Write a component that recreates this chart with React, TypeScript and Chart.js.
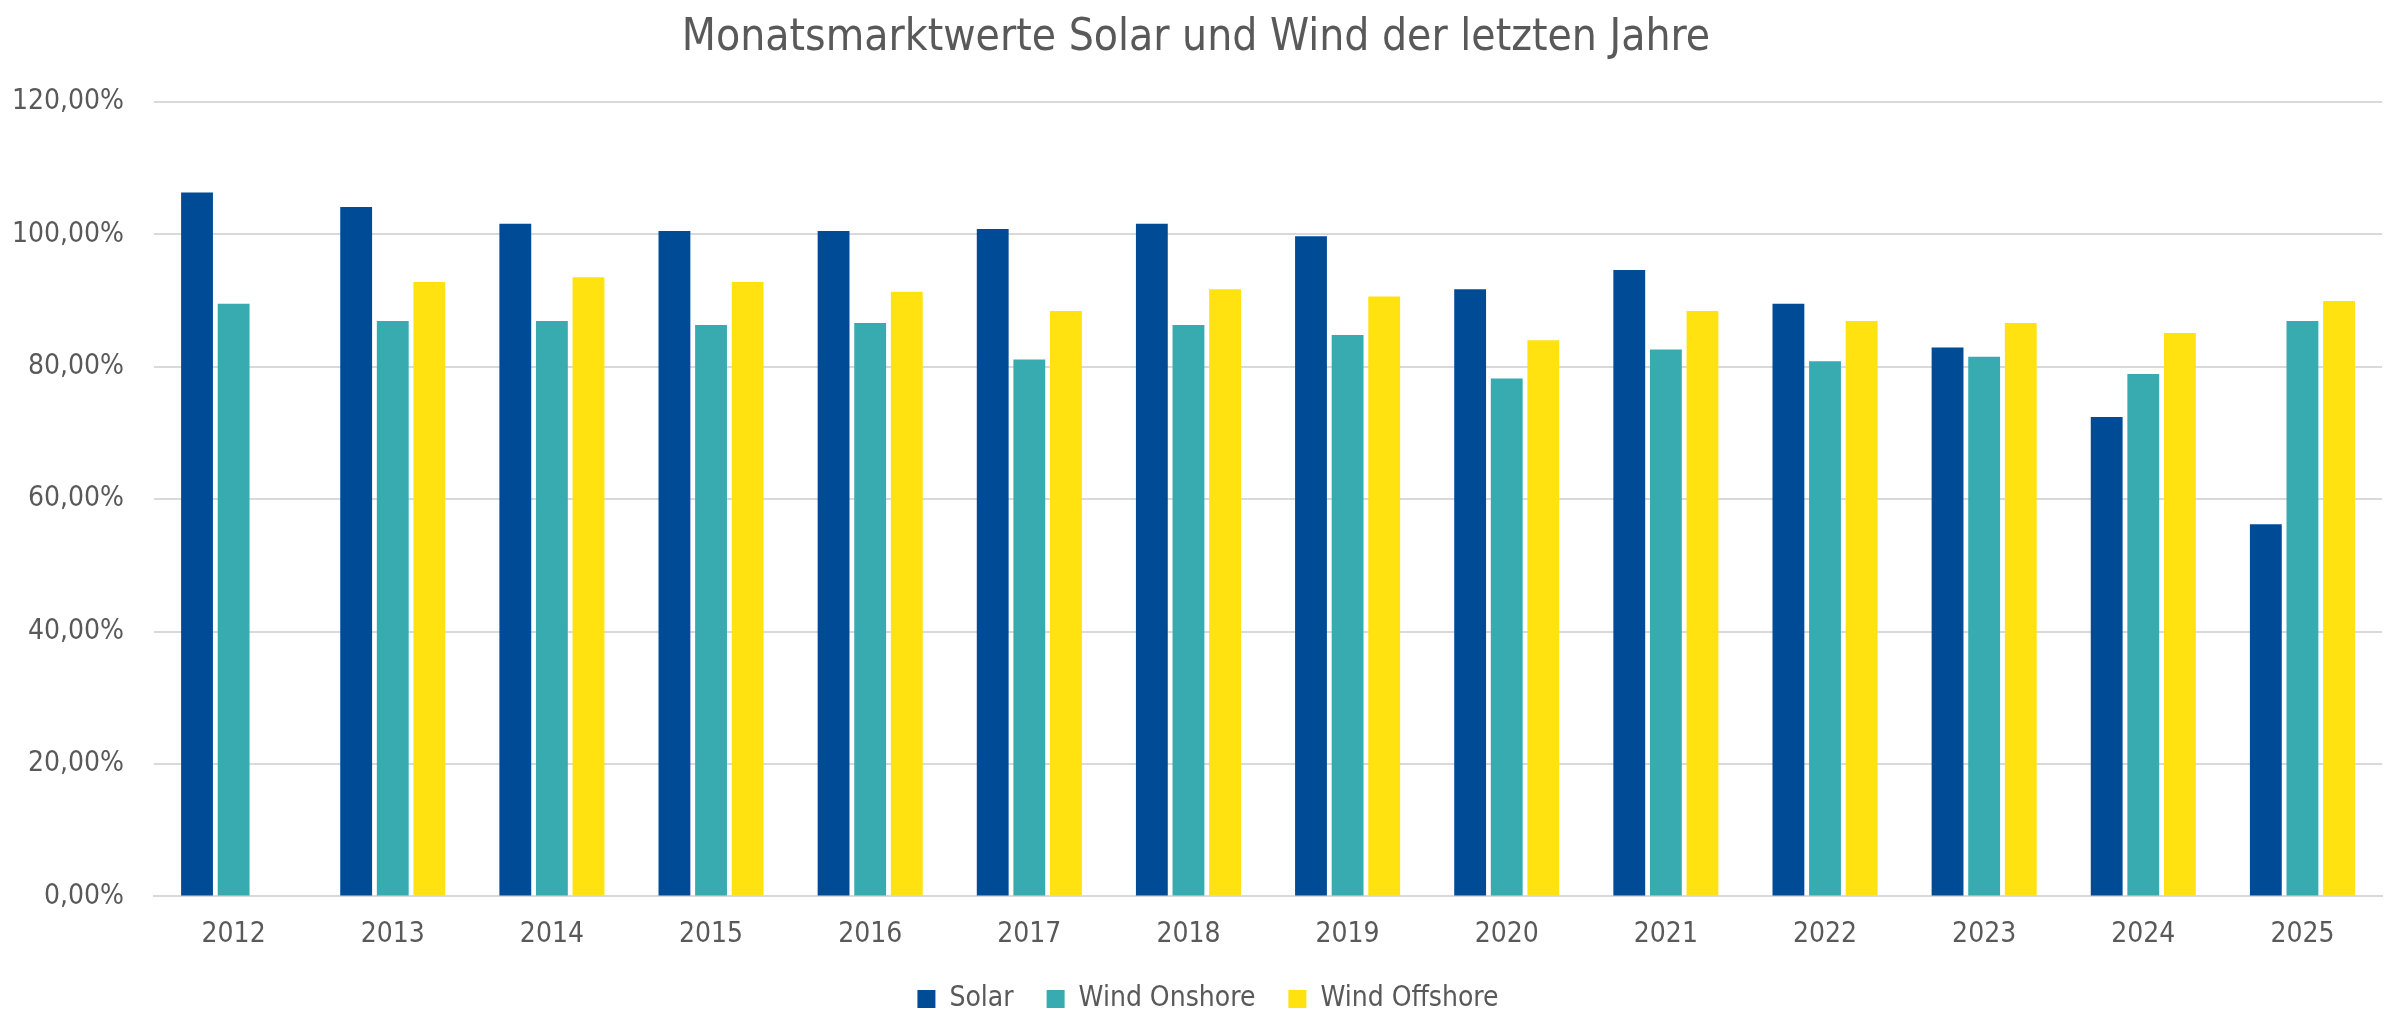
import { useEffect, useRef } from "react"
import { Chart, registerables } from "chart.js"

Chart.register(...registerables)

const years = ["2012", "2013", "2014", "2015", "2016", "2017", "2018", "2019", "2020", "2021", "2022", "2023", "2024", "2025"]
const solar = [106.3, 104.1, 101.6, 100.5, 100.5, 100.8, 101.6, 99.7, 91.7, 94.6, 89.5, 82.9, 72.4, 56.2]
const windOnshore = [89.5, 86.9, 86.9, 86.3, 86.6, 81.1, 86.3, 84.8, 78.2, 82.6, 80.8, 81.5, 78.9, 86.9]
const windOffshore = [null, 92.8, 93.5, 92.8, 91.3, 88.4, 91.7, 90.6, 84.0, 88.4, 86.9, 86.6, 85.1, 89.9]

const FONT = "'DejaVu Sans Condensed', 'DejaVu Sans', sans-serif"
const TEXT = "#595959"

// the original legend sits a little right of centre
const legendShift = {
    id: "legendShift",
    afterLayout(chart: Chart) {
        const legend: any = (chart as any).legend
        if (legend) {
            legend.left += 12
            legend.right += 12
        }
    },
}

export default function App() {
    const chartRef = useRef<HTMLCanvasElement>(null)
    const chartInstance = useRef<Chart | null>(null)

    useEffect(() => {
        if (!chartRef.current) return
        if (chartInstance.current) chartInstance.current.destroy()

        chartInstance.current = new Chart(chartRef.current, {
            type: "bar",
            data: {
                labels: years,
                datasets: [
                    { label: "Solar", data: solar, backgroundColor: "#004b96" },
                    { label: "Wind Onshore", data: windOnshore, backgroundColor: "#37abb0" },
                    { label: "Wind Offshore", data: windOffshore, backgroundColor: "#ffe20f" },
                ],
            },
            options: {
                responsive: true,
                maintainAspectRatio: false,
                animation: false,
                datasets: {
                    bar: { categoryPercentage: 0.69, barPercentage: 0.87 },
                },
                layout: { padding: { left: 10, right: 18, top: 0, bottom: 2 } },
                plugins: {
                    title: {
                        display: true,
                        text: "Monatsmarktwerte Solar und Wind der letzten Jahre",
                        color: TEXT,
                        font: { family: FONT, size: 44, weight: "normal" },
                        padding: { top: 12, bottom: 37 },
                    },
                    legend: {
                        position: "bottom",
                        labels: {
                            color: TEXT,
                            font: { family: FONT, size: 28 },
                            boxWidth: 18,
                            boxHeight: 18,
                            padding: 33,
                        },
                    },
                    tooltip: { enabled: false },
                },
                scales: {
                    x: {
                        // invisible tick length used as the gap below the axis
                        grid: { display: false, tickLength: 22 },
                        border: { color: "#d9d9d9", width: 2 },
                        ticks: { color: TEXT, font: { family: FONT, size: 28 }, padding: 0 },
                    },
                    y: {
                        min: 0,
                        max: 120,
                        border: { display: false },
                        grid: { color: "#d9d9d9", lineWidth: 2, tickLength: 28, tickColor: "rgba(0,0,0,0)" },
                        ticks: {
                            stepSize: 20,
                            color: TEXT,
                            font: { family: FONT, size: 28 },
                            padding: 2,
                            callback: (v) => Number(v).toFixed(2).replace(".", ",") + "%",
                        },
                    },
                },
            },
            plugins: [legendShift],
        })

        return () => {
            if (chartInstance.current) {
                chartInstance.current.destroy()
                chartInstance.current = null
            }
        }
    }, [])

    return (
        <div style={{ position: "fixed", left: 0, top: 0, width: 2400, height: 1025, background: "#fff" }}>
            <canvas ref={chartRef} />
        </div>
    )
}
